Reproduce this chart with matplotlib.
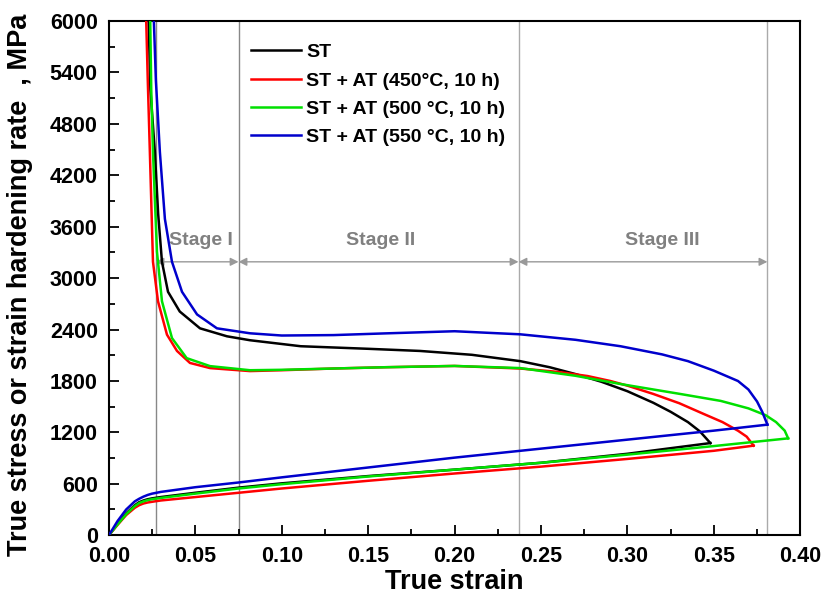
import matplotlib.pyplot as plt
from matplotlib.ticker import MultipleLocator

# true stress curves (strain, MPa)
st_x = [0, 0.005, 0.01, 0.015, 0.0175, 0.02, 0.0225, 0.025, 0.03, 0.05, 0.075, 0.1, 0.15, 0.2, 0.25, 0.3, 0.348]
st_y = [0, 130, 255, 350, 385, 405, 420, 430, 445, 495, 555, 605, 690, 765, 845, 950, 1075]
at450_x = [0, 0.005, 0.01, 0.015, 0.0175, 0.02, 0.0225, 0.025, 0.03, 0.05, 0.075, 0.1, 0.15, 0.2, 0.25, 0.3, 0.35, 0.373]
at450_y = [0, 120, 235, 320, 350, 370, 382, 390, 405, 445, 495, 545, 635, 720, 800, 890, 985, 1045]
at500_x = [0, 0.005, 0.01, 0.015, 0.0175, 0.02, 0.0225, 0.025, 0.03, 0.05, 0.075, 0.1, 0.15, 0.2, 0.25, 0.3, 0.35, 0.393]
at500_y = [0, 125, 245, 340, 375, 395, 410, 420, 435, 485, 545, 595, 685, 765, 845, 940, 1040, 1130]
at550_x = [0, 0.005, 0.01, 0.015, 0.0175, 0.02, 0.0225, 0.025, 0.03, 0.05, 0.075, 0.1, 0.15, 0.2, 0.25, 0.3, 0.35, 0.381]
at550_y = [0, 165, 300, 395, 425, 450, 470, 485, 505, 560, 615, 675, 790, 905, 1010, 1115, 1220, 1290]

# strain hardening rate curves (strain, MPa)
st_hx = [0.0226, 0.024, 0.0266, 0.0285, 0.0307, 0.0342, 0.041, 0.0527, 0.0683, 0.0816, 0.111, 0.15,
         0.18, 0.21, 0.238, 0.255, 0.27, 0.285, 0.3, 0.315, 0.325, 0.335, 0.342, 0.348]
st_hy = [6300, 5200, 4470, 3750, 3190, 2840, 2610, 2414, 2321, 2275, 2205, 2175,
         2150, 2105, 2031, 1960, 1880, 1790, 1680, 1545, 1440, 1320, 1210, 1075]
at450_hx = [0.0212, 0.0225, 0.0237, 0.0255, 0.0284, 0.0336, 0.0394, 0.0469, 0.0585, 0.0816, 0.1, 0.13,
            0.16, 0.2, 0.238, 0.26, 0.277, 0.29, 0.3, 0.315, 0.33, 0.344, 0.355, 0.364, 0.369, 0.373]
at450_hy = [6300, 5300, 4470, 3190, 2730, 2340, 2150, 2010, 1950, 1915, 1925, 1945,
            1960, 1975, 1945, 1905, 1857, 1800, 1745, 1648, 1540, 1416, 1320, 1219, 1150, 1045]
at500_hx = [0.0237, 0.0245, 0.0255, 0.0278, 0.0307, 0.0365, 0.045, 0.0585, 0.0816, 0.1, 0.13, 0.16,
            0.2, 0.238, 0.27, 0.296, 0.33, 0.354, 0.37, 0.38, 0.386, 0.391, 0.393]
at500_hy = [6300, 5200, 4470, 3310, 2730, 2300, 2066, 1973, 1925, 1930, 1945, 1960,
            1975, 1950, 1860, 1764, 1650, 1567, 1480, 1400, 1320, 1220, 1130]
at550_hx = [0.0255, 0.0272, 0.0295, 0.0324, 0.0365, 0.0423, 0.051, 0.0625, 0.0816, 0.1, 0.13, 0.16,
            0.2, 0.238, 0.27, 0.296, 0.32, 0.335, 0.35, 0.364, 0.37, 0.375, 0.378, 0.381]
at550_hy = [6300, 5300, 4470, 3690, 3190, 2840, 2576, 2414, 2356, 2330, 2335, 2355,
            2380, 2344, 2280, 2205, 2110, 2031, 1920, 1799, 1700, 1560, 1440, 1290]

labels = ['ST', 'ST + AT (450°C, 10 h)', 'ST + AT (500 °C, 10 h)', 'ST + AT (550 °C, 10 h)']
colors = ['#000000', '#ff0000', '#00e000', '#0000cc']

stage_bounds = [0.027, 0.075, 0.237, 0.381]
stage_names = ['Stage I', 'Stage II', 'Stage III']
stage_label_x = [0.053, 0.157, 0.32]

plt.rcParams['font.family'] = ['Liberation Sans', 'DejaVu Sans']

fig = plt.figure(figsize=(8.25, 6), dpi=100)
ax = fig.add_axes([0.132, 0.108, 0.838, 0.857])

# stage separators
for i, b in enumerate(stage_bounds):
    ax.axvline(b, color='#888888' if i < 2 else '#aaaaaa', lw=1.0, zorder=1)

stress = [(st_x, st_y), (at450_x, at450_y), (at500_x, at500_y), (at550_x, at550_y)]
harden = [(st_hx, st_hy), (at450_hx, at450_hy), (at500_hx, at500_hy), (at550_hx, at550_hy)]
for (sx, sy), (hx, hy), c, lab in zip(stress, harden, colors, labels):
    ax.plot(sx, sy, color=c, lw=1.8, label=lab, zorder=3)
    ax.plot(hx, hy, color=c, lw=1.8, zorder=3)

# stage arrows
for i, name in enumerate(stage_names):
    a, b = stage_bounds[i], stage_bounds[i + 1]
    ax.annotate('', xy=(b, 3190), xytext=(a, 3190),
                arrowprops=dict(arrowstyle='<|-|>', color='#999999', lw=1.0,
                                shrinkA=0, shrinkB=0, mutation_scale=12), zorder=2)
    ax.text(stage_label_x[i], 3440, name, color='#808080', fontsize=14,
            fontweight='bold', ha='center', va='center')

ax.set_xlim(0, 0.40)
ax.set_ylim(0, 6000)
ax.xaxis.set_major_locator(MultipleLocator(0.05))
ax.xaxis.set_minor_locator(MultipleLocator(0.025))
ax.yaxis.set_major_locator(MultipleLocator(600))
ax.yaxis.set_minor_locator(MultipleLocator(300))
ax.xaxis.set_major_formatter(plt.FormatStrFormatter('%.2f'))
ax.tick_params(which='both', direction='in', top=False, right=False, width=1.3)
ax.tick_params(which='major', length=7, labelsize=15.5)
ax.tick_params(which='minor', length=4.5)
ax.tick_params(axis='x', which='major', pad=8)
ax.tick_params(axis='y', which='major', pad=8)
for lab in ax.get_xticklabels() + ax.get_yticklabels():
    lab.set_fontweight('bold')
for s in ax.spines.values():
    s.set_linewidth(1.5)

ax.set_xlabel('True strain', fontsize=19.5, fontweight='bold', labelpad=1)
ax.set_ylabel('True stress or strain hardening rate  , MPa', fontsize=19.5, fontweight='bold')
ax.yaxis.set_label_coords(-0.11, 0.486)

leg = ax.legend(loc='upper left', bbox_to_anchor=(0.18, 0.99), frameon=False,
                prop={'weight': 'bold', 'size': 14}, handlelength=2.57,
                handletextpad=0.28, labelspacing=0.55)

fig.savefig('out.png', dpi=100)
